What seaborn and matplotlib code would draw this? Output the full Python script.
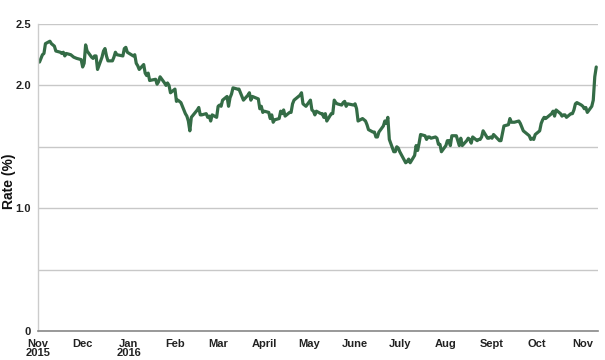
import matplotlib
matplotlib.use("Agg")
import matplotlib.pyplot as plt
import seaborn as sns
import pandas as pd

# ---- data (10-year rate, %) ----
nov15_days = [2, 3, 4, 5, 6, 9, 10, 12, 13, 16, 17, 18, 19, 20, 23, 24, 25, 27, 30]
nov15_vals = [2.19, 2.22, 2.25, 2.26, 2.34, 2.36, 2.34, 2.32, 2.28, 2.27, 2.26, 2.27, 2.24, 2.26, 2.25, 2.24, 2.23, 2.22, 2.21]
dec15_days = [1, 2, 3, 4, 7, 8, 9, 10, 11, 14, 15, 16, 17, 18, 21, 22, 23, 24, 28, 29, 30, 31]
dec15_vals = [2.15, 2.18, 2.33, 2.28, 2.23, 2.22, 2.24, 2.24, 2.13, 2.23, 2.28, 2.30, 2.24, 2.20, 2.20, 2.23, 2.27, 2.25, 2.24, 2.30, 2.31, 2.27]
jan16_days = [4, 5, 6, 7, 8, 11, 12, 13, 14, 15, 19, 20, 21, 22, 25, 26, 27, 28, 29]
jan16_vals = [2.24, 2.25, 2.18, 2.16, 2.13, 2.17, 2.10, 2.08, 2.10, 2.04, 2.05, 2.01, 2.03, 2.07, 2.02, 2.00, 2.02, 2.00, 1.94]
feb16_days = [1, 2, 3, 4, 5, 8, 9, 10, 11, 12, 16, 17, 18, 19, 22, 23, 24, 25, 26, 29]
feb16_vals = [1.97, 1.87, 1.88, 1.87, 1.86, 1.77, 1.75, 1.71, 1.63, 1.74, 1.80, 1.82, 1.76, 1.76, 1.77, 1.74, 1.75, 1.71, 1.76, 1.74]
mar16_days = [1, 2, 3, 4, 7, 8, 9, 10, 11, 14, 15, 16, 17, 18, 21, 22, 23, 24, 28, 29, 30, 31]
mar16_vals = [1.83, 1.84, 1.83, 1.88, 1.91, 1.83, 1.90, 1.93, 1.98, 1.97, 1.97, 1.94, 1.91, 1.88, 1.92, 1.94, 1.88, 1.91, 1.89, 1.81, 1.83, 1.78]
apr16_days = [1, 4, 5, 6, 7, 8, 11, 12, 13, 14, 15, 18, 19, 20, 21, 22, 25, 26, 27, 28, 29]
apr16_vals = [1.79, 1.78, 1.73, 1.76, 1.70, 1.72, 1.73, 1.79, 1.77, 1.80, 1.75, 1.78, 1.78, 1.85, 1.88, 1.89, 1.92, 1.94, 1.85, 1.84, 1.83]
may16_days = [2, 3, 4, 5, 6, 9, 10, 11, 12, 13, 16, 17, 18, 19, 20, 23, 24, 25, 26, 27, 31]
may16_vals = [1.88, 1.80, 1.79, 1.76, 1.79, 1.77, 1.77, 1.74, 1.77, 1.71, 1.77, 1.77, 1.88, 1.86, 1.85, 1.84, 1.86, 1.87, 1.83, 1.85, 1.84]
jun16_days = [1, 2, 3, 6, 7, 8, 9, 10, 13, 14, 15, 16, 17, 20, 21, 22, 23, 24, 27, 28, 29, 30]
jun16_vals = [1.85, 1.81, 1.71, 1.73, 1.72, 1.71, 1.68, 1.64, 1.62, 1.62, 1.58, 1.58, 1.62, 1.67, 1.71, 1.69, 1.74, 1.56, 1.46, 1.46, 1.50, 1.49]
jul16_days = [1, 5, 6, 7, 8, 11, 12, 13, 14, 15, 18, 19, 20, 21, 22, 25, 26, 27, 28, 29]
jul16_vals = [1.46, 1.37, 1.38, 1.40, 1.37, 1.43, 1.51, 1.47, 1.53, 1.60, 1.59, 1.56, 1.58, 1.58, 1.57, 1.58, 1.57, 1.52, 1.52, 1.46]
aug16_days = [1, 2, 3, 4, 5, 8, 9, 10, 11, 12, 15, 16, 17, 18, 19, 22, 23, 24, 25, 26, 29, 30, 31]
aug16_vals = [1.51, 1.55, 1.55, 1.51, 1.59, 1.59, 1.55, 1.51, 1.57, 1.51, 1.55, 1.57, 1.56, 1.53, 1.58, 1.55, 1.56, 1.56, 1.58, 1.63, 1.57, 1.57, 1.58]
sep16_days = [1, 2, 6, 7, 8, 9, 12, 13, 14, 15, 16, 19, 20, 21, 22, 23, 26, 27, 28, 29, 30]
sep16_vals = [1.57, 1.60, 1.55, 1.55, 1.61, 1.67, 1.68, 1.73, 1.70, 1.70, 1.70, 1.71, 1.69, 1.66, 1.63, 1.62, 1.59, 1.56, 1.57, 1.56, 1.60]
oct16_days = [3, 4, 5, 6, 7, 11, 12, 13, 14, 17, 18, 19, 20, 21, 24, 25, 26, 27, 28, 31]
oct16_vals = [1.63, 1.69, 1.72, 1.74, 1.73, 1.77, 1.79, 1.75, 1.80, 1.77, 1.75, 1.76, 1.76, 1.74, 1.77, 1.77, 1.80, 1.85, 1.86, 1.84]
nov16_days = [1, 2, 3, 4, 7, 8, 9, 10]
nov16_vals = [1.83, 1.81, 1.82, 1.78, 1.83, 1.88, 2.07, 2.15]

months = [("2015-11", nov15_days, nov15_vals), ("2015-12", dec15_days, dec15_vals),
          ("2016-01", jan16_days, jan16_vals), ("2016-02", feb16_days, feb16_vals),
          ("2016-03", mar16_days, mar16_vals), ("2016-04", apr16_days, apr16_vals),
          ("2016-05", may16_days, may16_vals), ("2016-06", jun16_days, jun16_vals),
          ("2016-07", jul16_days, jul16_vals), ("2016-08", aug16_days, aug16_vals),
          ("2016-09", sep16_days, sep16_vals), ("2016-10", oct16_days, oct16_vals),
          ("2016-11", nov16_days, nov16_vals)]

tick_dates = ["2015-11-01", "2015-12-01", "2016-01-01", "2016-02-01", "2016-03-01",
              "2016-04-01", "2016-05-01", "2016-06-01", "2016-07-01", "2016-08-01",
              "2016-09-01", "2016-10-01", "2016-11-01"]
tick_labels = ["Nov\n2015", "Dec", "Jan\n2016", "Feb", "Mar", "April", "May",
               "June", "July", "Aug", "Sept", "Oct", "Nov"]
y_ticks = [0, 0.5, 1.0, 1.5, 2.0, 2.5]
y_labels = ["0", "", "1.0", "", "2.0", "2.5"]

rows = []
for ym, days, vals in months:
    for d, v in zip(days, vals):
        rows.append({"date": pd.Timestamp(f"{ym}-{d:02d}"), "rate": v})
df = pd.DataFrame(rows)

sns.set_style("white")
plt.rcParams["font.family"] = ["Liberation Sans", "DejaVu Sans"]

fig = plt.figure(figsize=(6.05, 3.6), dpi=100)
ax = fig.add_axes([0.0628, 0.0806, 0.9252, 0.8527])

sns.lineplot(data=df, x="date", y="rate", ax=ax, color="#346c46", linewidth=2.3,
             solid_joinstyle="round", solid_capstyle="round")

ax.set_xlim(pd.Timestamp("2015-11-01"), pd.Timestamp("2016-11-11"))
ax.set_ylim(0, 2.5)
ax.set_yticks(y_ticks)
ax.set_yticklabels(y_labels)
ax.set_xticks([pd.Timestamp(t) for t in tick_dates])
ax.set_xticklabels(tick_labels, linespacing=0.85)

for lab in ax.get_xticklabels() + ax.get_yticklabels():
    lab.set_fontweight("bold")
    lab.set_fontsize(8)
    lab.set_color("#222222")

ax.yaxis.grid(True, color="#c8c8c8", linewidth=1)
ax.xaxis.grid(False)
ax.set_axisbelow(True)
ax.tick_params(axis="y", length=0, pad=5)
ax.tick_params(axis="x", direction="in", length=3, color="#bbbbbb", pad=6)

for s in ["top", "right"]:
    ax.spines[s].set_visible(False)
ax.spines["left"].set_color("#cccccc")
ax.spines["left"].set_linewidth(1)
ax.spines["bottom"].set_color("#888888")
ax.spines["bottom"].set_linewidth(1.2)

ax.set_xlabel("")
ax.set_ylabel("")
fig.text(9 / 605, 1 - 181 / 360, "Rate (%)", rotation=90, ha="center", va="center",
         fontsize=10, fontweight="bold", color="#111111")

fig.savefig("out.png", dpi=100)
